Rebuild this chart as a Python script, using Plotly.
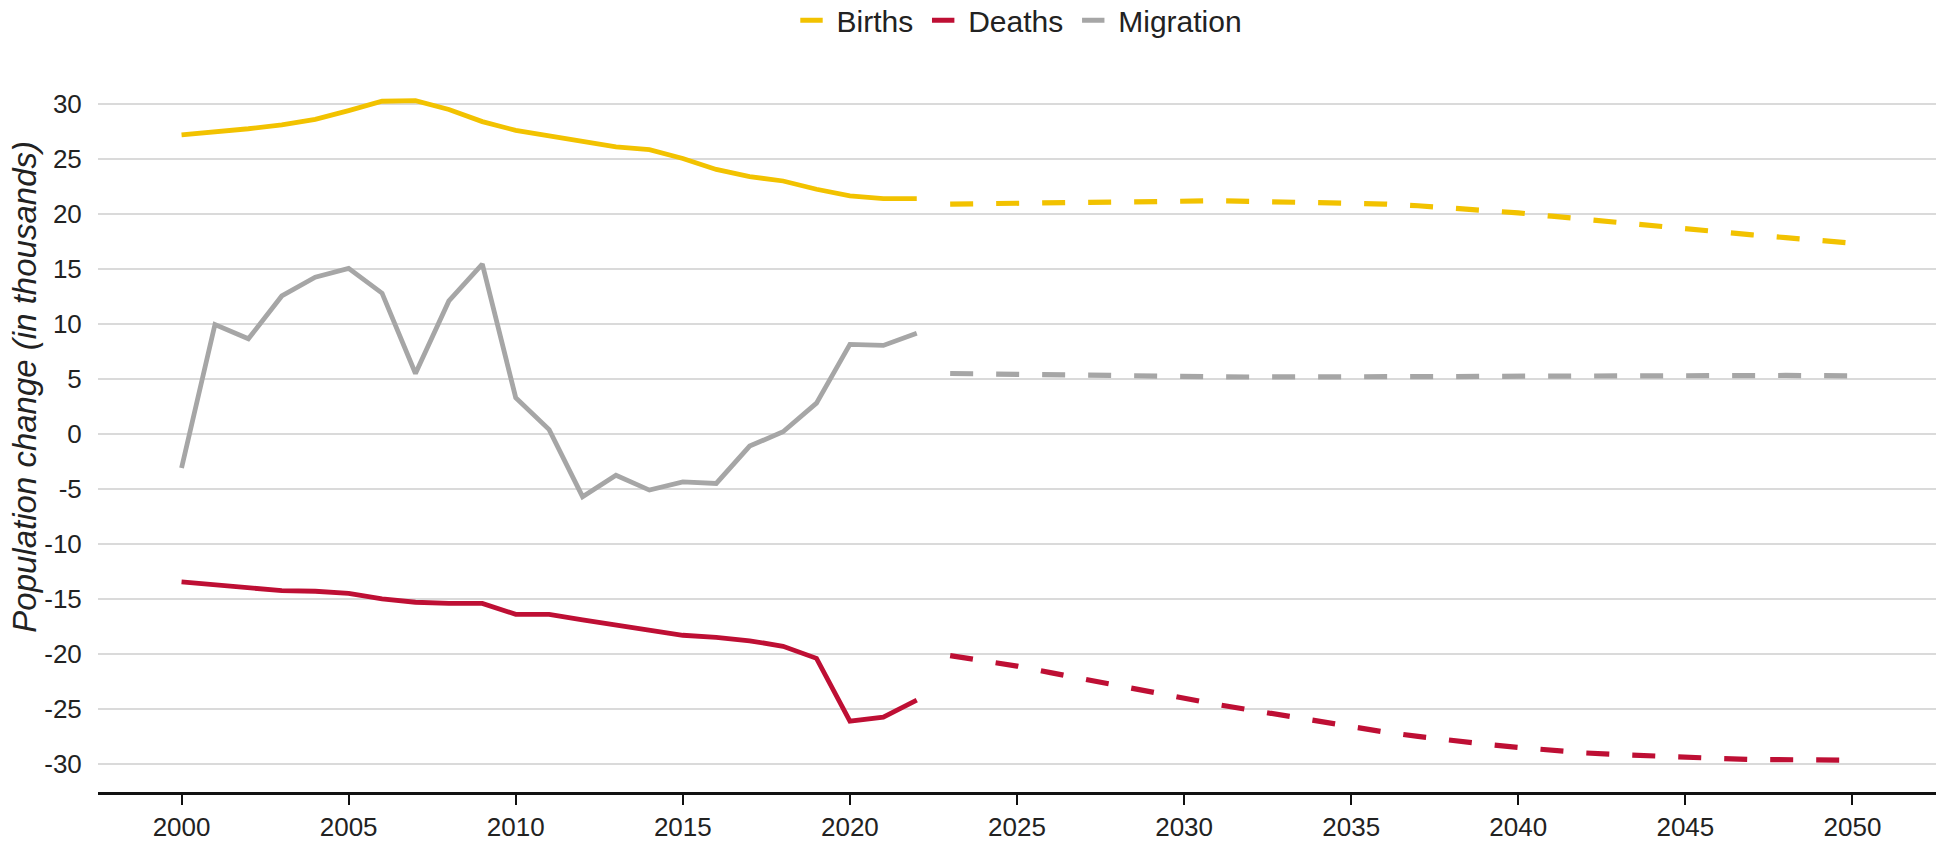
import plotly.graph_objects as go

# ---- data ----
years_hist = list(range(2000, 2023))
years_proj = list(range(2023, 2051))

births_hist = [27.2, 27.45, 27.75, 28.1, 28.6, 29.4, 30.25, 30.3, 29.5, 28.4, 27.6, 27.1, 26.6,
               26.1, 25.85, 25.05, 24.05, 23.4, 23.0, 22.25, 21.65, 21.4, 21.4]
deaths_hist = [-13.45, -13.7, -14.0, -14.25, -14.3, -14.5, -15.0, -15.3, -15.4, -15.4, -16.4,
               -16.4, -16.9, -17.35, -17.75, -18.3, -18.5, -18.8, -19.3, -20.4, -26.1, -25.75, -24.2]
migration_hist = [-3.1, 9.95, 8.65, 12.55, 14.25, 15.05, 12.8, 5.5, 12.1, 15.45, 3.3, 0.4, -5.7,
                  -3.75, -5.1, -4.35, -4.5, -1.1, 0.2, 2.8, 8.15, 8.05, 9.15]

births_proj = [20.9, 20.95, 21.0, 21.05, 21.1, 21.15, 21.2, 21.2, 21.2, 21.15, 21.1, 21.05, 21.0,
               20.9, 20.75, 20.55, 20.35, 20.1, 19.8, 19.5, 19.25, 18.95, 18.65, 18.35, 18.1,
               17.85, 17.6, 17.35]
deaths_proj = [-20.15, -20.6, -21.1, -21.7, -22.3, -22.9, -23.5, -24.1, -24.6, -25.1, -25.6,
               -26.2, -26.7, -27.1, -27.5, -27.9, -28.2, -28.5, -28.8, -29.0, -29.15, -29.3,
               -29.4, -29.5, -29.6, -29.65, -29.65, -29.65]
migration_proj = [5.5, 5.45, 5.4, 5.35, 5.3, 5.28, 5.25, 5.22, 5.2, 5.18, 5.17, 5.17, 5.17, 5.18,
                  5.2, 5.22, 5.24, 5.26, 5.28, 5.3, 5.31, 5.32, 5.33, 5.33, 5.33, 5.32, 5.3, 5.28]

series_names = ["Births", "Deaths", "Migration"]
colors = {"Births": "#F2C200", "Deaths": "#BE0F34", "Migration": "#A6A6A6"}
hist = {"Births": births_hist, "Deaths": deaths_hist, "Migration": migration_hist}
proj = {"Births": births_proj, "Deaths": deaths_proj, "Migration": migration_proj}

x_ticks = list(range(2000, 2051, 5))
y_ticks = list(range(-30, 31, 5))
y_tick_labels = [str(v) for v in y_ticks]
y_title = "Population change (in thousands)"

fig = go.Figure()
for name in series_names:
    fig.add_trace(go.Scatter(x=years_hist, y=hist[name], mode="lines", showlegend=False,
                             line=dict(color=colors[name], width=4.8), hoverinfo="skip"))
    fig.add_trace(go.Scatter(x=years_proj, y=proj[name], mode="lines", showlegend=False,
                             line=dict(color=colors[name], width=5.2, dash="23px,23px"),
                             hoverinfo="skip"))
for name in series_names:
    fig.add_trace(go.Scatter(x=[None], y=[None], mode="markers", name=name,
                             marker=dict(symbol="line-ew", size=16,
                                         line=dict(width=5, color=colors[name]))))

fig.add_annotation(text="<i>" + y_title + "</i>", textangle=-90,
                   xref="paper", x=-0.0397, xanchor="center",
                   yref="y", y=4.3, yanchor="middle", showarrow=False,
                   font=dict(size=33, color="#222222"))

fig.update_layout(
    width=1942, height=841,
    margin=dict(l=98, r=6, t=93, b=49, autoexpand=False),
    plot_bgcolor="white", paper_bgcolor="white",
    font=dict(family="Liberation Sans, Arial, sans-serif", color="#222222", size=26),
    showlegend=True,
    legend=dict(orientation="h", x=0.5, xanchor="center",
                yref="container", y=0.976, yanchor="middle",
                font=dict(size=30, color="#222222"), itemwidth=40,
                bgcolor="rgba(0,0,0,0)"),
    xaxis=dict(range=[1997.5, 2052.5], tickvals=x_ticks, showgrid=False, zeroline=False,
               automargin=False,
               showline=True, linecolor="#111111", linewidth=2.5,
               ticks="outside", ticklen=10, tickwidth=2, tickcolor="#111111",
               tickfont=dict(size=26, color="#222222")),
    yaxis=dict(range=[-32.55, 31.0], tickvals=y_ticks, ticktext=y_tick_labels,
               showgrid=True, gridcolor="#DADADA", automargin=False,
               gridwidth=2, zeroline=False, showline=False,
               ticks="outside", ticklen=10, tickcolor="rgba(0,0,0,0)",
               tickfont=dict(size=26, color="#222222")),
)

fig.write_html("out.html", config={"displayModeBar": False},
               post_script="document.body.style.margin='0';document.body.style.overflow='hidden';")
